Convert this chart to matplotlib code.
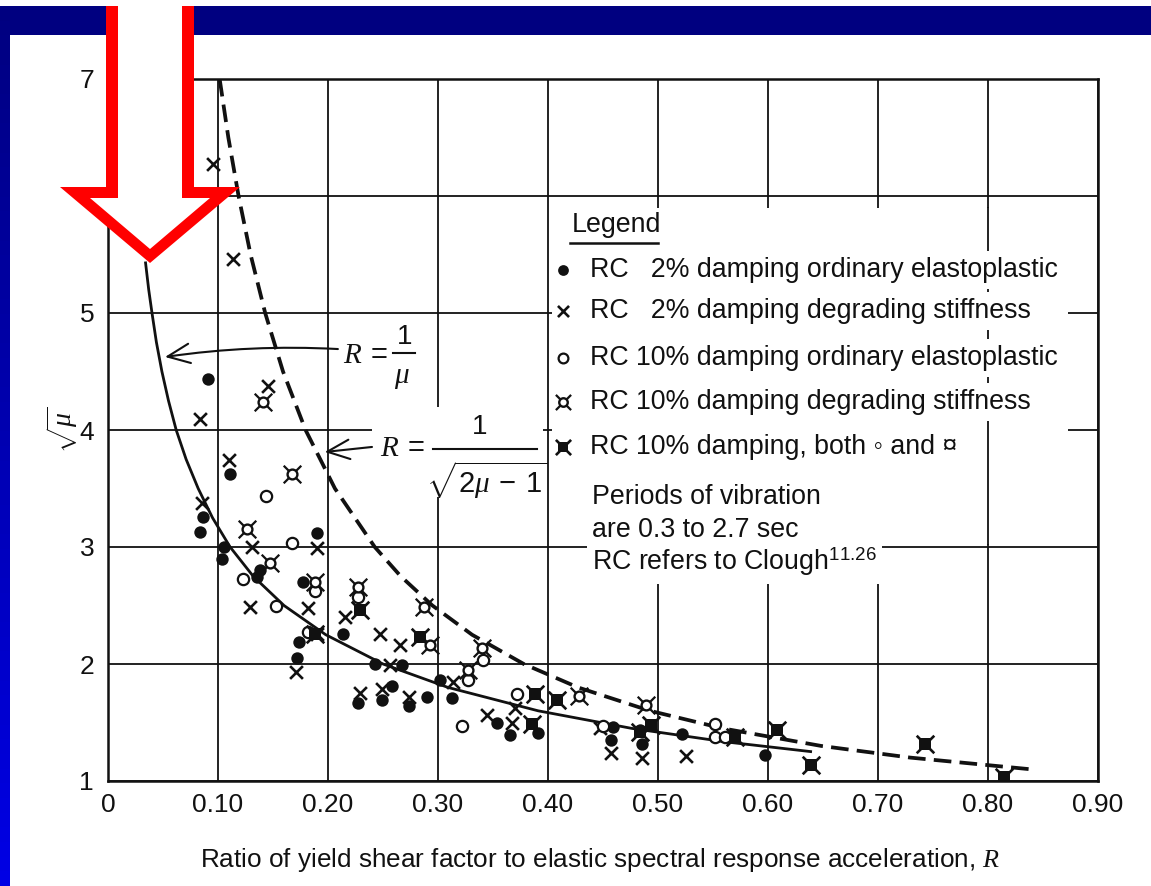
import matplotlib.pyplot as plt
from matplotlib.patches import Rectangle, Polygon

plt.rcParams['font.family'] = ['Liberation Sans', 'DejaVu Sans']
plt.rcParams['mathtext.fontset'] = 'custom'
plt.rcParams['mathtext.rm'] = 'Liberation Sans'
plt.rcParams['mathtext.it'] = 'Liberation Serif:italic'
plt.rcParams['mathtext.bf'] = 'Liberation Sans:bold'

# values: x = R, y = sqrt(mu)
dot_R = [0.091, 0.111, 0.086, 0.084, 0.105, 0.104, 0.190, 0.135, 0.138, 0.177,
         0.214, 0.174, 0.172, 0.243, 0.267, 0.258, 0.249, 0.227, 0.274, 0.290,
         0.302, 0.313, 0.354, 0.365, 0.391, 0.459, 0.457, 0.485, 0.484, 0.522, 0.597]
dot_mu = [4.44, 3.62, 3.26, 3.13, 3.00, 2.90, 3.12, 2.74, 2.80, 2.70,
          2.26, 2.19, 2.05, 2.00, 1.99, 1.81, 1.69, 1.67, 1.64, 1.72,
          1.86, 1.71, 1.50, 1.39, 1.41, 1.46, 1.35, 1.32, 1.44, 1.40, 1.22]

cross_R = [0.095, 0.114, 0.084, 0.110, 0.145, 0.085, 0.131, 0.129, 0.190, 0.182,
           0.215, 0.190, 0.171, 0.247, 0.265, 0.256, 0.249, 0.229, 0.274, 0.314,
           0.345, 0.370, 0.367, 0.447, 0.457, 0.485, 0.525]
cross_mu = [6.27, 5.46, 4.09, 3.74, 4.38, 3.38, 3.00, 2.49, 2.99, 2.48,
            2.40, 2.26, 1.93, 2.26, 2.16, 1.99, 1.79, 1.75, 1.72, 1.85,
            1.56, 1.62, 1.50, 1.45, 1.24, 1.20, 1.21]

open_R = [0.144, 0.167, 0.123, 0.153, 0.188, 0.227, 0.182, 0.341, 0.327, 0.322,
          0.372, 0.450, 0.552, 0.552, 0.561]
open_mu = [3.44, 3.03, 2.73, 2.50, 2.62, 2.57, 2.27, 2.03, 1.86, 1.47,
           1.74, 1.47, 1.49, 1.38, 1.38]

cur_R = [0.141, 0.167, 0.126, 0.147, 0.188, 0.227, 0.287, 0.293, 0.340, 0.327, 0.428, 0.489]
cur_mu = [4.24, 3.62, 3.15, 2.86, 2.70, 2.66, 2.49, 2.16, 2.14, 1.95, 1.73, 1.65]

both_R = [0.229, 0.188, 0.284, 0.388, 0.385, 0.408, 0.484, 0.494, 0.570, 0.608,
          0.639, 0.743, 0.815]
both_mu = [2.46, 2.26, 2.23, 1.74, 1.49, 1.69, 1.42, 1.48, 1.38, 1.44,
           1.14, 1.32, 1.03]

# curves
solid_R = [0.034, 0.037, 0.040, 0.044, 0.049, 0.055, 0.062, 0.071, 0.082, 0.095,
           0.111, 0.132, 0.160, 0.198, 0.250, 0.309, 0.391, 0.476, 0.560, 0.640]
solid_mu = [5.44, 5.2, 5.0, 4.75, 4.5, 4.25, 4.0, 3.75, 3.5, 3.25,
            3.0, 2.75, 2.5, 2.25, 2.0, 1.8, 1.6, 1.45, 1.336, 1.25]
dash_R = [0.1015, 0.1094, 0.1187, 0.1296, 0.1429, 0.1591, 0.1796, 0.2063, 0.2425,
          0.2661, 0.2949, 0.3310, 0.378, 0.4272, 0.4927, 0.5586, 0.6482, 0.7293, 0.839]
dash_mu = [7.0, 6.5, 6.0, 5.5, 5.0, 4.5, 4.0, 3.5, 3.0,
           2.75, 2.5, 2.25, 2.0, 1.8, 1.6, 1.45, 1.3, 1.2, 1.1]

xticks = [0, 0.1, 0.2, 0.3, 0.4, 0.5, 0.6, 0.7, 0.8, 0.9]
xlabels = ['0', '0.10', '0.20', '0.30', '0.40', '0.50', '0.60', '0.70', '0.80', '0.90']
yticks = [1, 2, 3, 4, 5, 6, 7]
ylabels = ['1', '2', '3', '4', '5', '6', '7']

legend_items = ['RC   2% damping ordinary elastoplastic',
                'RC   2% damping degrading stiffness',
                'RC 10% damping ordinary elastoplastic',
                'RC 10% damping degrading stiffness',
                'RC 10% damping, both \u25e6 and \u00a4']
legend_kinds = ['dot', 'cross', 'open', 'cur', 'both']
notes = ['Periods of vibration', 'are 0.3 to 2.7 sec',
         r'RC refers to Clough$^{\mathregular{11.26}}$']

INK = '#111111'
FS = 19.3
W, H = 1151, 886
fig = plt.figure(figsize=(W / 100, H / 100), dpi=100)
ax = fig.add_axes([108 / W, 1 - 781 / H, 990 / W, 702 / H])
ax.set_xlim(0, 0.9)
ax.set_ylim(1, 7)
ax.set_xticks(xticks)
ax.set_xticklabels(xlabels)
ax.set_yticks(yticks)
ax.set_yticklabels(ylabels)
ax.tick_params(length=0, labelsize=19, colors=INK)
ax.tick_params(axis='x', pad=9)
ax.tick_params(axis='y', pad=10)
ax.grid(True, color=INK, lw=1.3)
ax.set_axisbelow(True)
for sp in ax.spines.values():
    sp.set_linewidth(1.8)
    sp.set_color(INK)


def draw_kind(kind, xs, ys, k=1.0, z=5):
    if kind == 'dot':
        ax.scatter(xs, ys, s=80 * k, c=INK, marker='o', linewidths=0, zorder=z)
    elif kind == 'cross':
        ax.scatter(xs, ys, s=85 * k, c=INK, marker='x', linewidths=1.9, zorder=z)
    elif kind == 'open':
        ax.scatter(xs, ys, s=66 * k, facecolors='white', edgecolors=INK,
                   marker='o', linewidths=1.6, zorder=z)
    elif kind == 'cur':
        ax.scatter(xs, ys, s=160 * k, c=INK, marker='x', linewidths=1.6, zorder=z)
        ax.scatter(xs, ys, s=50 * k, facecolors='white', edgecolors=INK,
                   marker='o', linewidths=1.7, zorder=z + 0.1)
    elif kind == 'both':
        ax.scatter(xs, ys, s=160 * k, c=INK, marker='x', linewidths=1.9, zorder=z)
        ax.scatter(xs, ys, s=66 * k, c=INK, marker='s', linewidths=0, zorder=z + 0.1)


# curves
ax.plot(solid_R, solid_mu, color=INK, lw=2.0, zorder=3, solid_capstyle='butt')
ax.plot(dash_R, dash_mu, color=INK, lw=2.7, dashes=(4.7, 2.2), zorder=3)

# data
draw_kind('dot', dot_R, dot_mu)
draw_kind('cross', cross_R, cross_mu)
draw_kind('open', open_R, open_mu)
draw_kind('cur', cur_R, cur_mu)
draw_kind('both', both_R, both_mu)

# curve label R = 1/mu
arrow_kw = dict(arrowstyle='->,head_length=0.8,head_width=0.35', mutation_scale=20,
                lw=1.5, color=INK, shrinkA=0, shrinkB=0)
ax.text(0.2136, 4.641, r'$R\;=$', fontsize=21, ha='left', va='center', color=INK, zorder=4)
ax.plot([0.259, 0.279], [4.658, 4.658], color=INK, lw=1.5, zorder=4)
ax.text(0.270, 4.795, '1', fontsize=20, ha='center', va='center', color=INK, zorder=4)
ax.text(0.2673, 4.45, r'$\mu$', fontsize=21, ha='center', va='center', color=INK, zorder=4)
ax.annotate('', xy=(0.0518, 4.624), xytext=(0.209, 4.692),
            arrowprops=dict(arrow_kw, connectionstyle='arc3,rad=0.05'), zorder=4)

# curve label R = 1/sqrt(2mu-1), on a white patch
ax.add_patch(Rectangle((0.240, 3.427), 0.3955 - 0.240, 4.197 - 3.427,
                       fc='white', ec='none', zorder=2.8))
ax.text(0.2473, 3.846, r'$R\;=$', fontsize=21, ha='left', va='center', color=INK, zorder=4)
ax.plot([0.2955, 0.390], [3.838, 3.838], color=INK, lw=1.5, zorder=4)
ax.text(0.338, 4.026, '1', fontsize=20, ha='center', va='center', color=INK, zorder=4)
ax.text(0.3445, 3.573, r'$\sqrt{2\mu\;-\;1}$', fontsize=21, ha='center', va='center',
        color=INK, zorder=4)
ax.annotate('', xy=(0.197, 3.812), xytext=(0.240, 3.855),
            arrowprops=arrow_kw, zorder=4)

# legend block (white patch over the grid)
ax.add_patch(Rectangle((0.4036, 3.026), 0.8727 - 0.4036, 5.897 - 3.026,
                       fc='white', ec='none', zorder=2))
ax.plot([0.8, 0.8], [3.026, 5.897], color=INK, lw=1.3, zorder=2.5)
ax.text(0.422, 5.752, 'Legend', fontsize=FS, ha='left', va='center', color=INK, zorder=4)
ax.plot([0.420, 0.500], [5.598, 5.598], color=INK, lw=1.8, zorder=4)
entry_y = [5.368, 5.017, 4.615, 4.239, 3.855]
for txt, kind, yy in zip(legend_items, legend_kinds, entry_y):
    ax.text(0.438, yy, txt, fontsize=FS, ha='left', va='center', color=INK, zorder=3,
            bbox=dict(boxstyle='square,pad=0.22', fc='white', ec='none'))
    draw_kind(kind, [0.414], [yy], k=0.75, z=5)
for txt, yy in zip(notes, [3.427, 3.145, 2.872]):
    ax.text(0.440, yy, txt, fontsize=FS, ha='left', va='center', color=INK, zorder=3,
            bbox=dict(boxstyle='square,pad=0.2', fc='white', ec='none'))

ax.set_xlabel('Ratio of yield shear factor to elastic spectral response acceleration, $R$',
              fontsize=18.8, color=INK)
ax.xaxis.set_label_coords(0.497, -0.0926)
ax.text(-0.0465, 0.5, r'$\sqrt{\mu}$', transform=ax.transAxes, rotation=90,
        fontsize=20, ha='center', va='center', color=INK)


# slide frame and red arrow, in pixel units of the figure
def fpx(pts):
    return [(x / W, 1 - y / H) for x, y in pts]


fig.patches.append(Rectangle((0, 1 - 35 / H), 1, 29 / H, transform=fig.transFigure,
                             fc='#000080', ec='none', zorder=1))
n = 60
for i in range(n):
    y0 = 6 + (H - 6) * i / n
    t = i / (n - 1)
    col = (0, 0, (128 + 100 * t) / 255)
    fig.patches.append(Rectangle((0, 1 - (y0 + (H - 6) / n + 1) / H), 10 / W,
                                 ((H - 6) / n + 1) / H, transform=fig.transFigure,
                                 fc=col, ec='none', zorder=1))

outer = [(106, 6), (106, 187), (60, 187), (150, 263), (240, 187), (194, 187), (194, 6)]
inner = [(118, 6), (118, 198), (90, 198), (150, 249), (210, 198), (182, 198), (182, 6)]
fig.patches.append(Polygon(fpx(outer), closed=True, transform=fig.transFigure,
                           fc='#ff0000', ec='none', zorder=10))
fig.patches.append(Polygon(fpx(inner), closed=True, transform=fig.transFigure,
                           fc='white', ec='none', zorder=11))

fig.savefig('out.png', dpi=100, facecolor='white')
